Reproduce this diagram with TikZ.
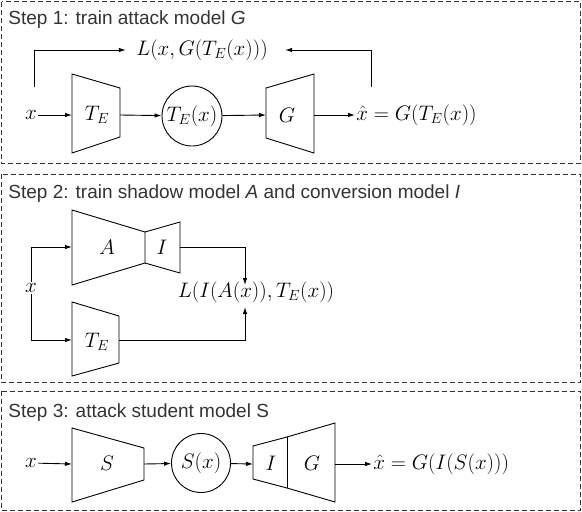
\RequirePackage{fix-cm}
\documentclass[tikz,border=0pt]{standalone}
\usepackage{fontspec}
\setmainfont{Liberation Sans}
\usetikzlibrary{arrows.meta,positioning,calc}

\begin{document}
\begin{tikzpicture}[x=1pt,y=-1pt,line width=0.9pt,
  >={Latex[length=7pt,width=4.5pt]},
  frame/.style={draw=black!80,line width=0.8pt,dash pattern=on 5pt off 3pt},
  title/.style={anchor=base west,inner sep=0pt,text=black!80,font=\fontsize{19}{22}\selectfont},
  lbl/.style={inner sep=1pt,font=\fontsize{21}{25}\selectfont},
  circ/.style={circle,draw,minimum size=60pt,inner sep=0pt,font=\fontsize{21}{25}\selectfont}]
\useasboundingbox (0,0) rectangle (582,512);

% step 1
\draw[frame] (1.5,1.5) rectangle (580.5,163);
\node[title] (t1) at (8,24) {Step 1: train attack model \textit{G}};
\node[lbl] (x1) at (31,115) {$x$};
\draw (72,74) -- (120,88) -- (120,137) -- (72,153) -- cycle;
\node[lbl] (te1) at (97,115) {$T_E$};
\coordinate (te1w) at (72,115);
\coordinate (te1e) at (120,115);
\node[circ] (tex1) at (192,116) {$T_E(x)$};
\draw (266,88) -- (314,74) -- (314,153) -- (266,138) -- cycle;
\node[lbl] (g1) at (287,115) {$G$};
\coordinate (g1w) at (266,115);
\coordinate (g1e) at (314,115);
\node[lbl,anchor=west] (xh1) at (355,115) {$\hat{x} = G(T_E(x))$};
\node[lbl] (loss1) at (202,50) {$L(x, G(T_E(x)))$};
\coordinate (up1) at (34,87);
\coordinate (up2) at (371,87);
\draw[->] (x1) -- (te1w);
\draw[->] (te1e) -- (tex1);
\draw[->] (tex1) -- (g1w);
\draw[->] (g1e) -- (xh1);
\draw[->] (up1) |- ([xshift=-9pt]loss1.west);
\draw[->] (up2) |- ([xshift=16pt]loss1.east);

% step 2
\draw[frame] (1.5,174) rectangle (580.5,382);
\node[title] (t2) at (8,198) {Step 2: train shadow model \textit{A} and conversion model \textit{I}};
\draw (72,210) -- (145,232) -- (145,263) -- (72,285) -- cycle;
\draw (145,232) -- (180,222) -- (180,273) -- (145,263);
\node[lbl] (a2) at (107,247) {$A$};
\node[lbl] (i2) at (162,247) {$I$};
\coordinate (a2w) at (72,247);
\coordinate (i2e) at (180,247);
\draw (72,302) -- (119,316) -- (119,363) -- (72,376) -- cycle;
\node[lbl] (te2) at (97,342) {$T_E$};
\coordinate (te2w) at (72,340);
\coordinate (te2e) at (119,340);
\node[lbl] (x2) at (31,288) {$x$};
\node[lbl] (loss2) at (256,292) {$L(I(A(x)), T_E(x))$};
\coordinate (l2top) at (245,285);
\coordinate (l2bot) at (245,307);
\draw[->] (x2) |- (a2w);
\draw[->] (x2) |- (te2w);
\draw[->] (i2e) -| (l2top);
\draw[->] (te2e) -| (l2bot);

% step 3
\draw[frame] (1.5,391) rectangle (580.5,510.5);
\node[title] (t3) at (8,417) {Step 3: attack student model S};
\node[lbl] (x3) at (31,463) {$x$};
\draw (72,428) -- (144,448) -- (144,480) -- (72,502) -- cycle;
\node[lbl] (s3) at (107,463) {$S$};
\coordinate (s3w) at (72,464);
\coordinate (s3e) at (144,464);
\node[circ,minimum size=59pt] (sx3) at (201,463) {$S(x)$};
\draw (253,446) -- (287,437) -- (335,423) -- (335,502) -- (287,488) -- (253,479) -- cycle;
\draw (287,437) -- (287,488);
\node[lbl] (i3) at (271,463) {$I$};
\node[lbl] (g3) at (312,463) {$G$};
\coordinate (i3w) at (253,464);
\coordinate (g3e) at (335,464);
\node[lbl,anchor=west] (xh3) at (372,464) {$\hat{x} = G(I(S(x)))$};
\draw[->] (x3) -- (s3w);
\draw[->] (s3e) -- (sx3);
\draw[->] (sx3) -- (i3w);
\draw[->] (g3e) -- (xh3);
\end{tikzpicture}
\end{document}
